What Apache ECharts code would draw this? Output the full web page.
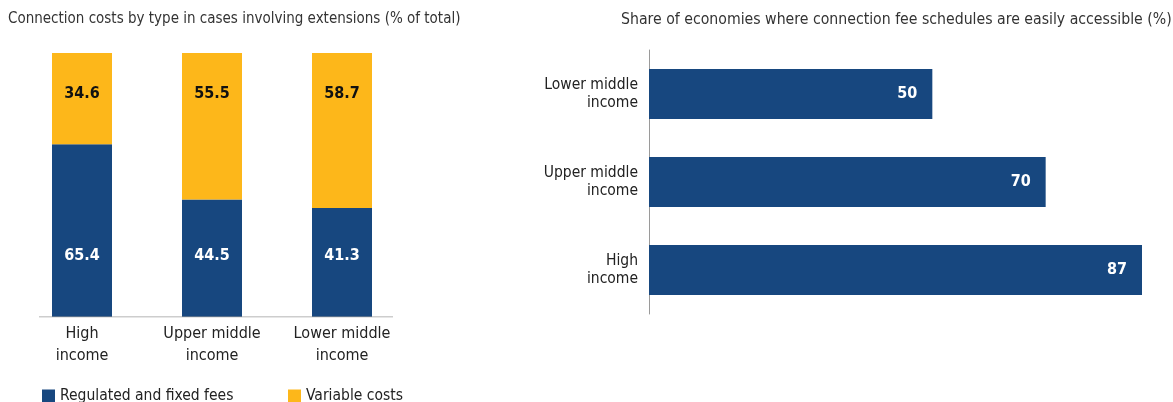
<!DOCTYPE html>
<html>
<head>
<meta charset="utf-8">
<script src="https://cdn.jsdelivr.net/npm/echarts@6/dist/echarts.min.js"></script>
<style>
  html, body { margin: 0; padding: 0; background: #fff; }
  #chart { width: 1173px; height: 402px; }
</style>
</head>
<body>
<div id="chart"></div>
<script>
// Connection costs by income group (stacked, % of total)
const costCategories = ['High\nincome', 'Upper middle\nincome', 'Lower middle\nincome'];
const regulatedFees = [65.4, 44.5, 41.3];
const variableCosts = [34.6, 55.5, 58.7];

// Share of economies with easily accessible fee schedules (%)
const accessCategories = ['High\nincome', 'Upper middle\nincome', 'Lower middle\nincome'];
const accessShare = [87, 70, 50];

const BLUE = '#17477f';
const YELLOW = '#fdb71a';
const FONT = '"Liberation Sans Narrow", "DejaVu Sans Condensed", "Roboto Condensed", "Open Sans", sans-serif';

const chart = echarts.init(document.getElementById('chart'), null, { renderer: 'canvas' });

chart.setOption({
  animation: false,
  textStyle: { fontFamily: FONT },
  title: [
    {
      text: 'Connection costs by type in cases involving extensions (% of total)',
      left: 3, top: 7,
      textStyle: { fontFamily: FONT, fontSize: 15, fontWeight: 'normal', color: '#333' }
    },
    {
      text: 'Share of economies where connection fee schedules are easily accessible (%)',
      left: 616, top: 7,
      textStyle: { fontFamily: FONT, fontSize: 15.7, fontWeight: 'normal', color: '#333' }
    }
  ],
  legend: [
    {
      data: ['Regulated and fixed fees'],
      left: 42, top: 388,
      icon: 'rect', itemWidth: 13, itemHeight: 13, itemGap: 6,
      textStyle: { fontFamily: FONT, fontSize: 15.5, color: '#222' },
      padding: 0
    },
    {
      data: ['Variable costs'],
      left: 288, top: 388,
      icon: 'rect', itemWidth: 13, itemHeight: 13, itemGap: 6,
      textStyle: { fontFamily: FONT, fontSize: 15.5, color: '#222' },
      padding: 0
    }
  ],
  grid: [
    // stacked bars
    { left: 17, width: 390, top: 53, height: 264 },
    // baseline under the stacked bars
    { left: 39, width: 354, top: 53, height: 264 },
    // horizontal bars
    { left: 649, width: 510, top: 50, height: 264 }
  ],
  xAxis: [
    {
      gridIndex: 0, type: 'category', data: costCategories,
      axisLine: { show: false }, axisTick: { show: false },
      axisLabel: { color: '#222', fontSize: 16, lineHeight: 22, margin: 6, fontFamily: FONT }
    },
    {
      gridIndex: 1, type: 'value', min: 0, max: 1,
      axisLine: { show: false }, axisTick: { show: false },
      axisLabel: { show: false }, splitLine: { show: false }
    },
    {
      gridIndex: 2, type: 'value', min: 0, max: 90,
      axisLine: { show: false }, axisTick: { show: false },
      axisLabel: { show: false }, splitLine: { show: false }
    }
  ],
  yAxis: [
    {
      gridIndex: 0, type: 'value', min: 0, max: 100,
      axisLine: { show: false }, axisTick: { show: false },
      axisLabel: { show: false }, splitLine: { show: false }
    },
    {
      gridIndex: 1, type: 'value', min: 0, max: 1,
      axisLine: { show: false }, axisTick: { show: false },
      axisLabel: { show: false },
      splitLine: { show: false }
    },
    {
      gridIndex: 2, type: 'category', data: accessCategories,
      axisLine: { show: true, lineStyle: { color: '#9a9a9a', width: 1 } },
      axisTick: { show: false },
      axisLabel: { color: '#222', fontSize: 15.5, lineHeight: 18, margin: 11, align: 'right', fontFamily: FONT }
    }
  ],
  series: [
    {
      name: 'Regulated and fixed fees', type: 'bar', stack: 'cost',
      xAxisIndex: 0, yAxisIndex: 0,
      data: regulatedFees, barWidth: 60,
      itemStyle: { color: BLUE },
      label: {
        show: true, position: 'insideBottom', distance: 53,
        color: '#fff', fontWeight: 'bold', fontSize: 16, fontFamily: FONT,
        formatter: p => p.value.toFixed(1)
      }
    },
    {
      name: 'Variable costs', type: 'bar', stack: 'cost',
      xAxisIndex: 0, yAxisIndex: 0,
      data: variableCosts, barWidth: 60,
      itemStyle: { color: YELLOW },
      label: {
        show: true, position: 'insideTop', distance: 33,
        color: '#111', fontWeight: 'bold', fontSize: 16, fontFamily: FONT,
        formatter: p => p.value.toFixed(1)
      }
    },
    {
      // baseline drawn as a line series across the lower grid edge
      type: 'line', xAxisIndex: 1, yAxisIndex: 1,
      data: [[0, 0], [1, 0]], symbol: 'none', silent: true,
      lineStyle: { color: '#9a9a9a', width: 1 }
    },
    {
      name: 'Accessible fee schedules', type: 'bar',
      xAxisIndex: 2, yAxisIndex: 2,
      data: accessShare, barWidth: 50,
      itemStyle: { color: BLUE },
      label: {
        show: true, position: 'insideRight', distance: 15,
        color: '#fff', fontWeight: 'bold', fontSize: 16, fontFamily: FONT
      }
    }
  ]
});
</script>
</body>
</html>
